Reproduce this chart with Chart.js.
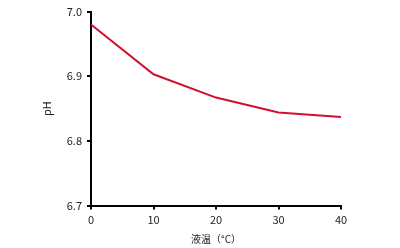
<!DOCTYPE html>
<html><head><meta charset="utf-8">
<script src="https://cdn.jsdelivr.net/npm/chart.js@4"></script>
<style>html,body{margin:0;padding:0;background:#fff}#wrap{width:400px;height:248px}</style>
</head><body><div id="wrap"><canvas id="c"></canvas></div>
<script>
const temps = [0, 10, 20, 30, 40];
const phValues = [6.98, 6.903, 6.867, 6.844, 6.837];
const xTicks = [0, 10, 20, 30, 40];
const yTicks = [6.7, 6.8, 6.9, 7.0];
const xTitle = '液温（°C）';
const yTitle = 'pH';
const FONT = '"Noto Sans CJK JP", "Noto Sans", sans-serif';

new Chart(document.getElementById('c'), {
  type: 'line',
  data: {
    datasets: [{
      data: temps.map((t, i) => ({x: t, y: phValues[i]})),
      borderColor: '#d0102c',
      borderWidth: 2,
      pointRadius: 0,
      tension: 0,
      fill: false
    }]
  },
  options: {
    responsive: true,
    maintainAspectRatio: false,
    animation: false,
    layout: {padding: {top: 10, right: 59, left: 0, bottom: 0}},
    plugins: {legend: {display: false}, tooltip: {enabled: false}},
    scales: {
      x: {
        type: 'linear', min: 0, max: 40,
        afterBuildTicks: s => { s.ticks = xTicks.map(v => ({value: v})); },
        afterFit: s => { s.height = 42.5; },
        border: {display: true, color: '#000', width: 2},
        grid: {display: true, drawOnChartArea: false, drawTicks: true, tickLength: 4, color: '#000', lineWidth: 2},
        ticks: {color: '#222', font: {family: FONT, size: 11}, padding: 4, maxRotation: 0},
        title: {display: true, text: xTitle, color: '#222', font: {family: FONT, size: 10}, padding: {top: 0, bottom: 3}}
      },
      y: {
        type: 'linear', min: 6.7, max: 7.0,
        afterBuildTicks: s => { s.ticks = yTicks.map(v => ({value: v})); },
        afterFit: s => { s.width = 91; },
        border: {display: true, color: '#000', width: 2},
        grid: {display: true, drawOnChartArea: false, drawTicks: true, tickLength: 4, color: '#000', lineWidth: 2},
        ticks: {color: '#222', font: {family: FONT, size: 11}, padding: 5, callback: v => Number(v).toFixed(1)},
        title: {display: true, text: yTitle, color: '#222', font: {family: FONT, size: 11}, padding: {top: 40, bottom: 0}}
      }
    }
  }
});
</script>
</body></html>
